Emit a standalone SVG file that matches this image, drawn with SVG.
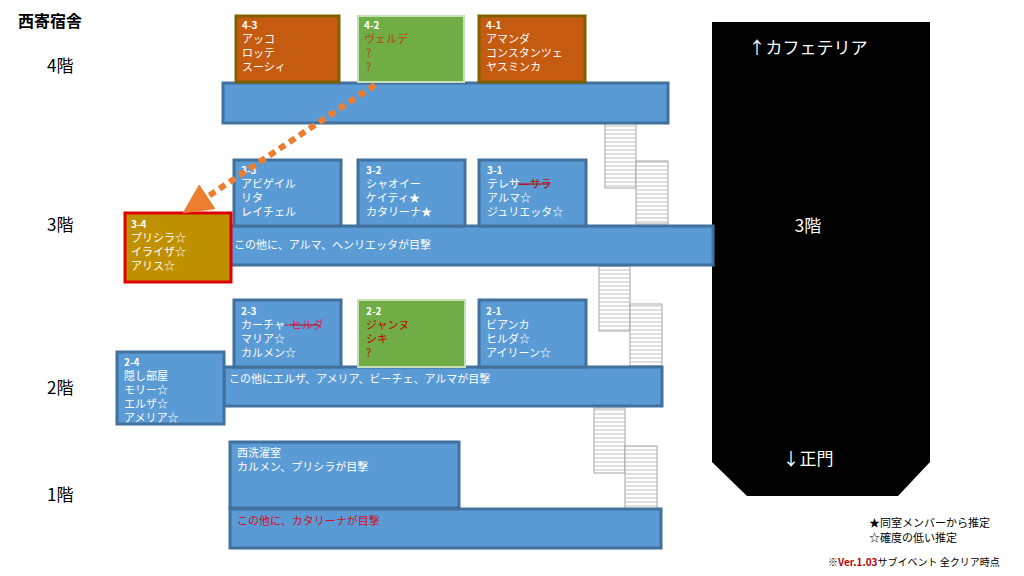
<svg xmlns="http://www.w3.org/2000/svg" width="1024" height="576" viewBox="0 0 1024 576">
<style>
text{font-family:"Noto Sans CJK JP","Noto Sans",sans-serif}
.b{fill:#5b9bd5;stroke:#41719c;stroke-width:3}
.o{fill:#c55a11;stroke:#7f6000;stroke-width:3}
.g{fill:#70ad47;stroke:#c5e0b4;stroke-width:2}
.t{fill:#fff;font-size:11px}
.r{fill:#c00000;font-size:11px}
.n{fill:#fff;font-size:10px;font-weight:bold}
.fl{font-size:17px;fill:#000}
.st{fill:url(#stp);stroke:#a6a6a6;stroke-width:1}
</style>
<defs>
<pattern id="stp" width="10" height="4" patternUnits="userSpaceOnUse"><rect width="10" height="4" fill="#fff"/><line x1="0" y1="2" x2="10" y2="2" stroke="#bfbfbf" stroke-width="1"/></pattern>
<marker id="ah" markerWidth="5" markerHeight="5" refX="2.5" refY="2.5" orient="auto" markerUnits="strokeWidth"><path d="M0,0L5,2.5L0,5z" fill="#ed7d31"/></marker>
</defs>
<text x="18" y="27" font-size="16" font-weight="bold">西寄宿舎</text>
<text x="47" y="72" class="fl">4階</text>
<text x="47" y="231" class="fl">3階</text>
<text x="47" y="394" class="fl">2階</text>
<text x="47" y="501" class="fl">1階</text>
<g id="stairs">
<rect class="st" x="605" y="123" width="31" height="65"/><rect class="st" x="636" y="161" width="32" height="63"/>
<rect class="st" x="599" y="266" width="31" height="65"/><rect class="st" x="630" y="304" width="32" height="62"/>
<rect class="st" x="594" y="408" width="31" height="65"/><rect class="st" x="625" y="446" width="32" height="63"/>
</g>
<g id="cafe"><path d="M712,22H930V462L898,496H747L712,462Z" fill="#000"/>
<text x="808" y="54" fill="#fff" font-size="17" text-anchor="middle">↑カフェテリア</text>
<text x="808" y="232" fill="#fff" font-size="17" text-anchor="middle">3階</text>
<text x="808" y="465" fill="#fff" font-size="17" text-anchor="middle">↓正門</text></g>
<g id="c4"><rect class="b" x="223" y="83" width="445" height="40"/></g>
<g id="r43"><rect class="o" x="236" y="16" width="103" height="66"/><text x="242" y="29" class="n">4-3</text><text x="242" y="43" class="t">アッコ</text><text x="242" y="57" class="t">ロッテ</text><text x="242" y="71" class="t">スーシィ</text></g>
<g id="r42"><rect class="g" x="358" y="16" width="106" height="66"/><text x="364" y="29" class="n">4-2</text><text x="364" y="43" class="r" style="fill:#b04a10">ヴェルデ</text><text x="366" y="57" class="r" style="fill:#b04a10">?</text><text x="366" y="71" class="r" style="fill:#b04a10">?</text></g>
<g id="r41"><rect class="o" x="479" y="16" width="106" height="66"/><text x="486" y="29" class="n">4-1</text><text x="486" y="43" class="t">アマンダ</text><text x="486" y="57" class="t">コンスタンツェ</text><text x="486" y="71" class="t">ヤスミンカ</text></g>
<g id="c3"><rect class="b" x="230" y="226" width="483" height="39"/><text x="234" y="249" class="t">この他に、アルマ、ヘンリエッタが目撃</text></g>
<g id="r33"><rect class="b" x="234" y="160" width="107" height="66"/><text x="241" y="174" class="n">3-3</text><text x="241" y="188" class="t">アビゲイル</text><text x="241" y="202" class="t">リタ</text><text x="241" y="216" class="t">レイチェル</text></g>
<g id="r32"><rect class="b" x="358" y="160" width="107" height="66"/><text x="366" y="174" class="n">3-2</text><text x="366" y="188" class="t">シャオイー</text><text x="366" y="202" class="t">ケイティ★</text><text x="366" y="216" class="t">カタリーナ★</text></g>
<g id="r31"><rect class="b" x="479" y="160" width="107" height="66"/><text x="487" y="174" class="n">3-1</text><text x="487" y="188" class="t">テレサ<tspan fill="#c00000">—サラ</tspan></text><line x1="518" y1="184" x2="549" y2="184" stroke="#c00000" stroke-width="1"/><text x="487" y="202" class="t">アルマ☆</text><text x="487" y="216" class="t">ジュリエッタ☆</text></g>
<g id="r34"><rect x="125" y="213" width="106" height="69" fill="#bf9000" stroke="#e00000" stroke-width="3"/><text x="131" y="228" class="n">3-4</text><text x="131" y="242" class="t">プリシラ☆</text><text x="131" y="256" class="t">イライザ☆</text><text x="131" y="270" class="t">アリス☆</text></g>
<g id="c2"><rect class="b" x="224" y="367" width="438" height="39"/><text x="229" y="383" class="t">この他にエルザ、アメリア、ビーチェ、アルマが目撃</text></g>
<g id="r23"><rect class="b" x="234" y="300" width="107" height="67"/><text x="241" y="315" class="n">2-3</text><text x="241" y="329" class="t">カーチャ·<tspan fill="#e0205a">ヒルダ</tspan></text><line x1="285" y1="325" x2="318" y2="325" stroke="#c00000" stroke-width="1"/><text x="241" y="343" class="t">マリア☆</text><text x="241" y="357" class="t">カルメン☆</text></g>
<g id="r22"><rect class="g" x="358" y="300" width="107" height="67"/><text x="366" y="315" class="n">2-2</text><text x="366" y="329" class="r">ジャンヌ</text><text x="366" y="343" class="r">シキ</text><text x="366" y="357" class="r">?</text></g>
<g id="r21"><rect class="b" x="479" y="300" width="107" height="67"/><text x="486" y="315" class="n">2-1</text><text x="486" y="329" class="t">ビアンカ</text><text x="486" y="343" class="t">ヒルダ☆</text><text x="486" y="357" class="t">アイリーン☆</text></g>
<g id="r24"><rect class="b" x="117" y="352" width="107" height="72"/><text x="124" y="366" class="n">2-4</text><text x="124" y="380" class="t">隠し部屋</text><text x="124" y="394" class="t">モリー☆</text><text x="124" y="408" class="t">エルザ☆</text><text x="124" y="422" class="t">アメリア☆</text></g>
<g id="r11"><rect class="b" x="230" y="442" width="229" height="66"/><text x="237" y="457" class="t">西洗濯室</text><text x="237" y="471" class="t">カルメン、プリシラが目撃</text></g>
<g id="c1"><rect class="b" x="230" y="509" width="431" height="39"/><text x="237" y="525" class="r" style="fill:#d01020">この他に、カタリーナが目撃</text></g>
<g id="connectors"><line x1="375" y1="85" x2="195" y2="205" stroke="#ed7d31" stroke-width="6" stroke-dasharray="7 5" marker-end="url(#ah)"/></g>
<text x="869" y="527" font-size="11">★同室メンバーから推定</text>
<text x="869" y="542" font-size="11">☆確度の低い推定</text>
<text x="828" y="566" font-size="10">※<tspan fill="#c00000" font-weight="bold">Ver.1.03</tspan>サブイベント 全クリア時点</text>
</svg>
